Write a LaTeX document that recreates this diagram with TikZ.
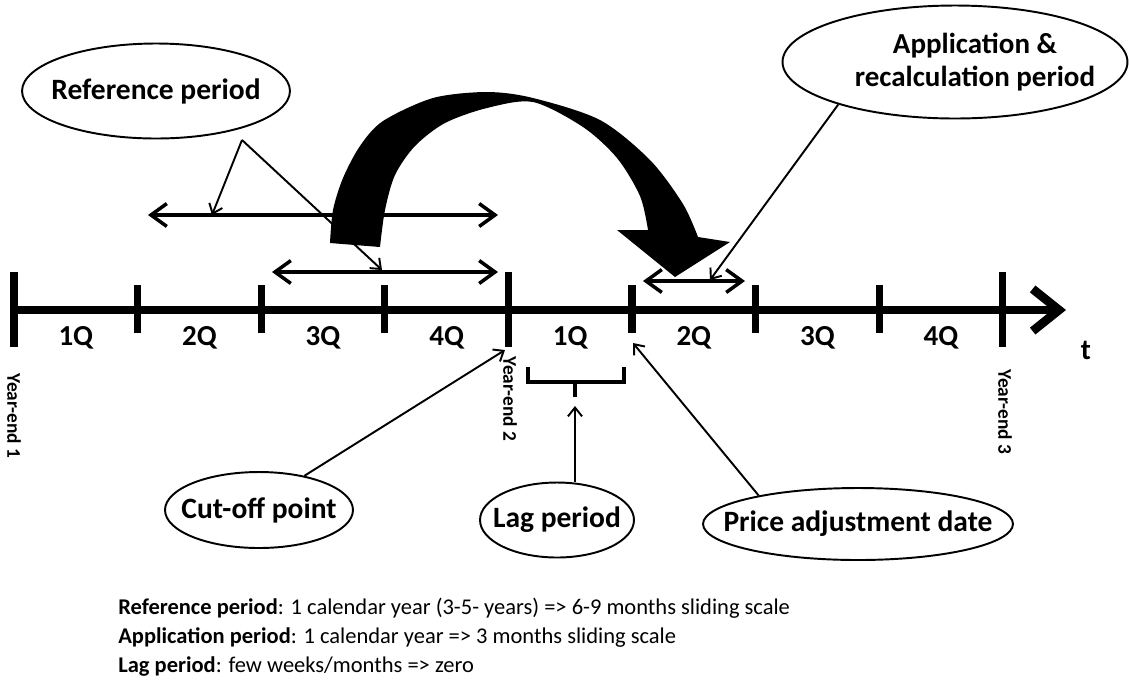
\documentclass[tikz,border=0pt]{standalone}
\usepackage{fontspec}
\setmainfont{Carlito}
\usetikzlibrary{arrows.meta,positioning,shapes.geometric}

\begin{document}
\begin{tikzpicture}[
  x=0.02cm, y=-0.02cm,
  axisline/.style={line width=5pt, -{Straight Barb[length=15pt,width=24pt]}},
  tickmark/.style={line width=4pt},
  qlbl/.style={font=\bfseries\fontsize{16.5}{19}\selectfont},
  yelbl/.style={font=\bfseries\fontsize{11}{13}\selectfont, rotate=-90},
  span/.style={line width=2pt, {Straight Barb[length=9pt,width=13pt]}-{Straight Barb[length=9pt,width=13pt]}},
  callout/.style={line width=1.1pt, -{Straight Barb[length=5pt,width=8pt]}},
  bubble/.style={ellipse, draw, line width=1.1pt, inner xsep=-2cm, inner ysep=0pt, align=center, font=\bfseries\fontsize{16.8}{19}\selectfont},
  note/.style={anchor=base west, inner sep=0pt, font=\fontsize{12.8}{15}\selectfont}
]
  \useasboundingbox (0,0) rectangle (1129,698);

  %% Time axis with quarters
  \coordinate (ax0) at (14,310);
  \coordinate (ax1) at (1066,310);
  \draw[axisline] (ax0) -- (ax1);
  \foreach \i in {1,2,3,5,6,7}
    \draw[tickmark] ({14+123.6*\i},285) -- ({14+123.6*\i},333);
  \foreach \i in {0,4,8}
    \draw[tickmark] ({14+123.6*\i},272) -- ({14+123.6*\i},347);
  \foreach \q [count=\i] in {1Q,2Q,3Q,4Q,1Q,2Q,3Q,4Q}
    \node[qlbl] (q\i) at ({14+123.6*(\i-0.5)},338) {\q};
  \node[qlbl] (tlbl) at (1086,350) {t};

  %% Year ends
  \node[yelbl] (ye1) at (14,416) {Year-end 1};
  \node[yelbl] (ye2) at (510,399) {Year-end 2};
  \node[yelbl] (ye3) at (1005,412) {Year-end 3};

  %% Periods
  \coordinate (refA-l) at (148,215);
  \coordinate (refA-r) at (498,215);
  \coordinate (refB-l) at (272,272);
  \coordinate (refB-r) at (498,272);
  \coordinate (app-l) at (643,281);
  \coordinate (app-r) at (745,281);
  \draw[span] (refA-l) -- (refA-r);
  \draw[span] (refB-l) -- (refB-r);
  \draw[span] (app-l) -- (app-r);

  %% Lag bracket
  \coordinate (lagTip) at (575,406);
  \draw[line width=1.9pt] (528,367) -- (528,382) -- (624,382) -- (624,367);
  \draw[line width=2.8pt] (575,382) -- (575,397);

  %% Big curved arrow
  \fill plot[smooth] coordinates {(330,243) (333,210) (343,178) (360,146) (383,121) (433,98) (487,92) (533,98) (600,120) (650,160) (683,204) (698,237)}
    -- (730,242) -- (675,277) -- (617,230) --
    plot[smooth] coordinates {(648,230) (640,196) (617,158) (583,127) (533,102) (487,108) (445,123) (415,146) (395,175) (385,210) (380,247)}
    -- cycle;

  %% Bubbles
  \node[bubble, minimum width=5.36cm, minimum height=1.9cm] (refbub) at (156,91) {Reference period};
  \node[bubble, minimum width=6.9cm, minimum height=2.26cm, font=\bfseries\fontsize{16.5}{19}\selectfont] (appbub) at (955,62) {\hspace*{0.8cm}Application \&\\\hspace*{0.8cm}recalculation period};
  \node[bubble, minimum width=3.76cm, minimum height=1.52cm] (cutbub) at (259,510) {Cut-off point};
  \node[bubble, minimum width=3.08cm, minimum height=1.5cm] (lagbub) at (557,520) {Lag period};
  \node[bubble, minimum width=6.2cm, minimum height=1.44cm] (pricebub) at (858,524) {Price adjustment date};

  %% Callouts
  \coordinate (refTip) at (242,140);
  \coordinate (refA-m) at (212,215);
  \coordinate (refB-m) at (382,270);
  \coordinate (app-m) at (710,280);
  \coordinate (cutTip) at (505,350);
  \coordinate (priceTip) at (633,343);
  \draw[callout] (refTip) -- (refA-m);
  \draw[callout] (refTip) -- (refB-m);
  \draw[callout] (appbub.200) -- (app-m);
  \draw[callout] (cutbub.37) -- (cutTip);
  \draw[callout] (lagbub.north -| lagTip) -- (lagTip);
  \draw[callout] (pricebub.164) -- (priceTip);

  %% Notes
  \node[note] (note1) at (118,614) {\textbf{Reference period}: 1 calendar year (3-5- years) => 6-9 months sliding scale};
  \node[note] (note2) at (118,643) {\textbf{Application period}: 1 calendar year => 3 months sliding scale};
  \node[note] (note3) at (118,672) {\textbf{Lag period}: few weeks/months => zero};
\end{tikzpicture}
\end{document}
